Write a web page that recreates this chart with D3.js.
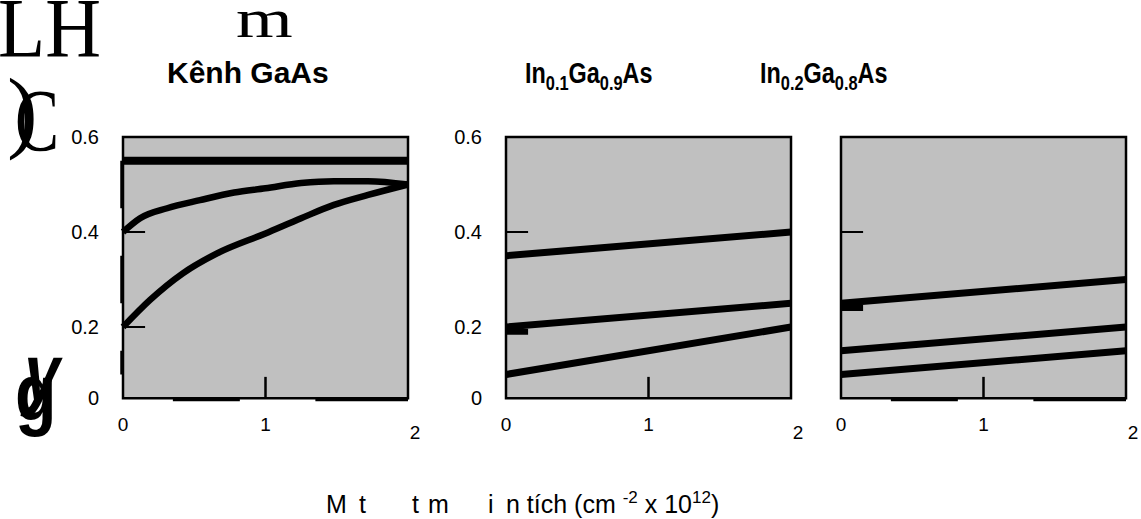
<!DOCTYPE html>
<html>
<head>
<meta charset="utf-8">
<script src="https://cdn.jsdelivr.net/npm/d3@7"></script>
<style>
    body { margin: 0; background: #fff; }
    svg { display: block; font-family: Arial, "Liberation Sans", sans-serif; }
    .pre { white-space: pre; }
</style>
</head>
<body>
<svg width="1141" height="519"></svg>
<script>
// axis values
var xDomain = [0, 2];
var yDomain = [0, 0.6];
var yFloor = 0.05;             // the gray box stops a bit above zero
var xTickLabels = [0, 1, 2];
var yTickLabels = [0, 0.2, 0.4, 0.6];

// Kênh GaAs
var gaasX = [0, 2];
var gaasFlat = [0.55, 0.55];
var gaasCurveX = [0, 0.12, 0.31, 0.54, 0.78, 1.0, 1.25, 1.48, 1.72, 2.0];
var gaasUpper = [0.40, 0.429, 0.45, 0.467, 0.483, 0.492, 0.503, 0.507, 0.507, 0.50];
var gaasLowerX = [0, 0.19, 0.42, 0.66, 1.0, 1.25, 1.48, 1.72, 2.0];
var gaasLower = [0.20, 0.257, 0.313, 0.355, 0.397, 0.429, 0.457, 0.478, 0.50];

// In0.1Ga0.9As
var in01X = [0, 2];
var in01Top = [0.35, 0.40];
var in01Mid = [0.20, 0.25];
var in01Low = [0.10, 0.20];

// In0.2Ga0.8As
var in02X = [0, 2];
var in02Top = [0.25, 0.30];
var in02Mid = [0.15, 0.20];
var in02Low = [0.10, 0.15];

// odd tick marks left over in the figure
var thinTicks = [[0.4, 0.2], [0.4], [0.4]];
var thickTicks = [[], [0.19], [0.24]];
var leftDashes = [[[0.55, 0.45], [0.35, 0.25], [0.15, 0.10]], [], []];
var bottomDashes = [[[0.35, 0.82], [1.35, 2]], [], [[0.35, 0.82], [1.35, 2]]];

var panels = [
    {left: 123, titleX: 167, squeeze: 1, title: [["Kênh GaAs", false]], yLabels: true,
     series: [
        {x: gaasX, y: gaasFlat, w: 8},
        {x: gaasCurveX, y: gaasUpper, w: 6.5},
        {x: gaasLowerX, y: gaasLower, w: 6.5}]},
    {left: 506, titleX: 525, squeeze: 0.78, title: [["In", false], ["0.1", true], ["Ga", false], ["0.9", true], ["As", false]], yLabels: true,
     series: [
        {x: in01X, y: in01Top, w: 7},
        {x: in01X, y: in01Mid, w: 7},
        {x: in01X, y: in01Low, w: 7}]},
    {left: 841, titleX: 760, squeeze: 0.78, title: [["In", false], ["0.2", true], ["Ga", false], ["0.8", true], ["As", false]], yLabels: false,
     series: [
        {x: in02X, y: in02Top, w: 7},
        {x: in02X, y: in02Mid, w: 7},
        {x: in02X, y: in02Low, w: 7}]}
];

var svg = d3.select("svg");
var panelWidth = 285;

var y = d3.scaleLinear().domain(yDomain).range([422, 137]);

panels.forEach(function(p, i) {
    var x = d3.scaleLinear().domain(xDomain).range([p.left, p.left + panelWidth]);
    var g = svg.append("g");

    // gray plot area
    g.append("rect")
        .attr("x", x(0))
        .attr("y", y(yDomain[1]))
        .attr("width", x(2) - x(0))
        .attr("height", y(yFloor) - y(yDomain[1]))
        .attr("fill", "#c0c0c0")
        .attr("stroke", "#000")
        .attr("stroke-width", 2.5);

    var line = d3.line()
        .x(function(d) { return x(d[0]); })
        .y(function(d) { return y(d[1]); })
        .curve(d3.curveMonotoneX);

    p.series.forEach(function(s) {
        g.append("path")
            .datum(d3.zip(s.x, s.y))
            .attr("d", line)
            .attr("fill", "none")
            .attr("stroke", "#000")
            .attr("stroke-width", s.w);
    });

    // ticks inside the box
    g.selectAll(".ythin")
        .data(thinTicks[i])
        .enter().append("line")
            .attr("x1", x(0)).attr("x2", x(0.155))
            .attr("y1", function(d) { return y(d); })
            .attr("y2", function(d) { return y(d); })
            .attr("stroke", "#000").attr("stroke-width", 2);

    g.selectAll(".ythick")
        .data(thickTicks[i])
        .enter().append("line")
            .attr("x1", x(0)).attr("x2", x(0.155))
            .attr("y1", function(d) { return y(d); })
            .attr("y2", function(d) { return y(d); })
            .attr("stroke", "#000").attr("stroke-width", 6);

    g.append("line")
        .attr("x1", x(1)).attr("x2", x(1))
        .attr("y1", y(yFloor)).attr("y2", y(0.095))
        .attr("stroke", "#000").attr("stroke-width", 2.5);

    g.selectAll(".ldash")
        .data(leftDashes[i])
        .enter().append("line")
            .attr("x1", x(0) - 1.5).attr("x2", x(0) - 1.5)
            .attr("y1", function(d) { return y(d[0]); })
            .attr("y2", function(d) { return y(d[1]); })
            .attr("stroke", "#000").attr("stroke-width", 2.5);

    g.selectAll(".bdash")
        .data(bottomDashes[i])
        .enter().append("line")
            .attr("x1", function(d) { return x(d[0]); })
            .attr("x2", function(d) { return x(d[1]); })
            .attr("y1", y(yFloor) + 1.5).attr("y2", y(yFloor) + 1.5)
            .attr("stroke", "#000").attr("stroke-width", 3);

    // tick labels
    g.selectAll(".xlab")
        .data(xTickLabels)
        .enter().append("text")
            .attr("x", function(d) { return x(d) + (d === 2 ? 7 : 0); })
            .attr("y", function(d) { return d === 2 ? 439 : 431; })
            .attr("text-anchor", "middle")
            .attr("font-size", 19)
            .text(function(d) { return d; });

    if (p.yLabels) {
        g.selectAll(".ylab")
            .data(yTickLabels)
            .enter().append("text")
                .attr("x", x(0) - 24)
                .attr("y", function(d) { return y(Math.max(d, yFloor)); })
                .attr("dy", "0.36em")
                .attr("text-anchor", "end")
                .attr("font-size", 20)
                .text(function(d) { return d; });
    }

    // title with subscripts
    var t = svg.append("text")
        .attr("transform", "translate(" + p.titleX + ",83) scale(" + p.squeeze + ",1)")
        .attr("font-weight", "bold")
        .attr("font-size", 30);
    p.title.forEach(function(part, k) {
        t.append("tspan")
            .attr("font-size", part[1] ? 21 : null)
            .attr("dy", part[1] ? 7 : (k ? -7 : 0))
            .text(part[0]);
    });
});

// broken y-axis title glyphs
var serif = "'Liberation Serif', 'Times New Roman', serif";
svg.append("text").attr("transform", "translate(-2,57) scale(0.92,1)")
    .attr("font-family", serif).attr("font-size", 84).text("LH");
svg.append("text").attr("transform", "translate(236,37) scale(1.35,1)")
    .attr("font-family", serif).attr("font-size", 54).text("m");
svg.append("text").attr("x", 7).attr("y", 141)
    .attr("font-family", serif).attr("font-size", 92).text(")");
svg.append("text").attr("transform", "translate(15,150) scale(0.75,1)")
    .attr("font-family", serif).attr("font-size", 88).text("C");
svg.append("text").attr("transform", "translate(15,420) scale(0.85,1)")
    .attr("font-weight", "bold").attr("font-size", 80).text("g");
svg.append("text").attr("transform", "translate(20,400) skewX(-10) scale(0.8,1)")
    .attr("font-weight", "bold").attr("font-size", 80).text("y");

// x-axis title, pieces placed where the missing glyphs leave gaps
var xt = svg.append("text")
    .attr("class", "pre")
    .attr("y", 513)
    .attr("font-size", 25);
xt.append("tspan").attr("x", 326).text("M");
xt.append("tspan").attr("x", 359).text("t");
xt.append("tspan").attr("x", 412).text("t");
xt.append("tspan").attr("x", 428).text("m");
xt.append("tspan").attr("x", 488).text("i");
xt.append("tspan").attr("x", 506).text("n tích (cm ");
xt.append("tspan").attr("font-size", 17).attr("dy", -10).text("-2");
xt.append("tspan").attr("dy", 10).text(" x 10");
xt.append("tspan").attr("font-size", 17).attr("dy", -10).text("12");
xt.append("tspan").attr("dy", 10).text(")");
</script>
</body>
</html>
